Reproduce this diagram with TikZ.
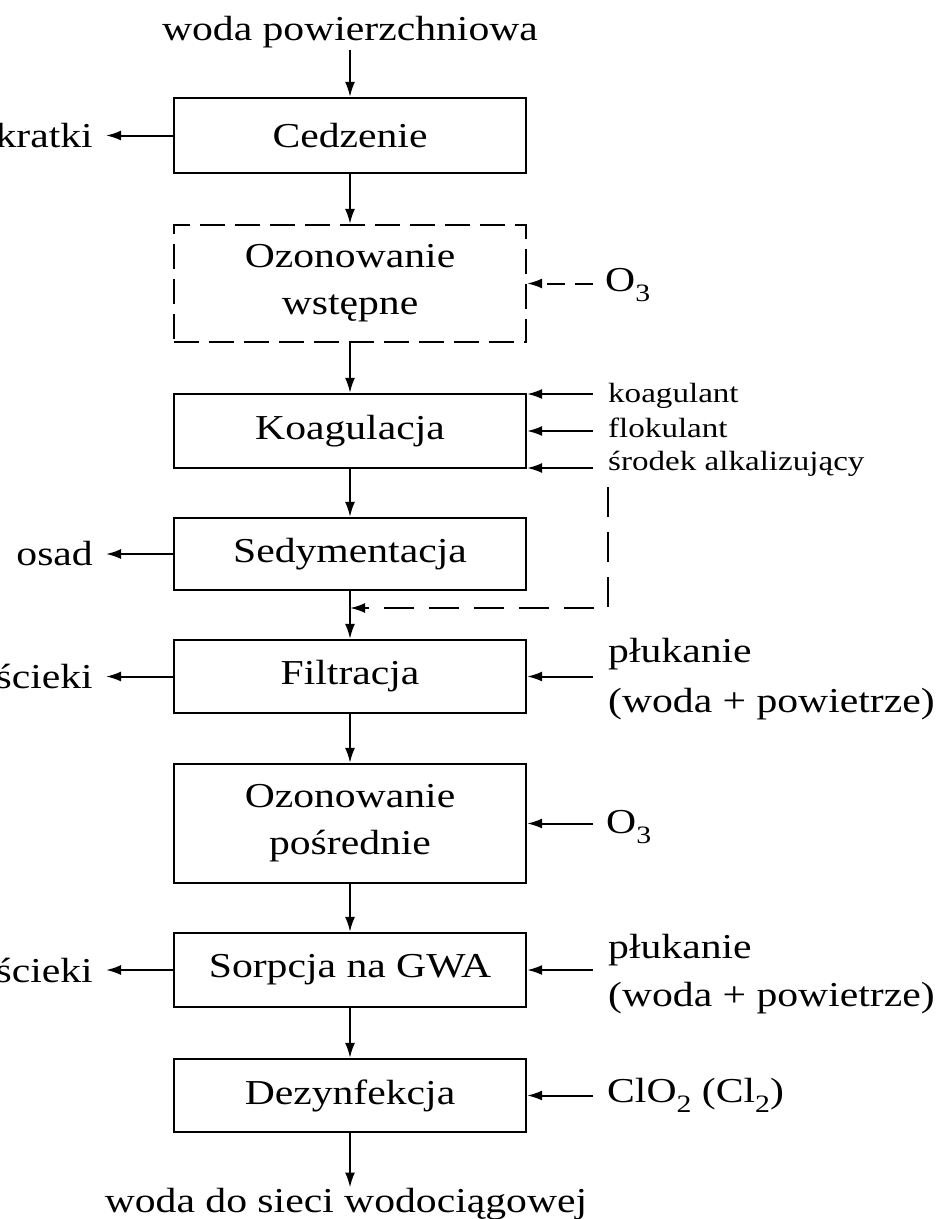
\documentclass[tikz,border=0pt]{standalone}
\usepackage{fontspec}
\setmainfont[FakeStretch=1.19]{Liberation Serif}
\usetikzlibrary{arrows.meta}
\newcommand\mysub[1]{\raisebox{-0.3em}{\fontsize{25}{25}\selectfont #1}}
\begin{document}
\begin{tikzpicture}[x=1pt,y=-1pt,
  every node/.style={font=\fontsize{35}{47}\selectfont},
  box/.style={draw,line width=2.2pt,minimum width=352pt,inner sep=0pt,align=center},
  dbox/.style={box,dash pattern=on 25pt off 10pt},
  arr/.style={line width=2pt,-{Latex[length=15pt,width=10pt]}},
  darr/.style={arr,dash pattern=on 30pt off 15pt},
  small/.style={font=\fontsize{27.8}{30}\selectfont},
  lab/.style={anchor=base west,inner sep=0pt},
  outlab/.style={anchor=east,inner ysep=0pt,inner xsep=13pt}
]
\useasboundingbox (0,0) rectangle (950,1219);

% process boxes
\node[box,minimum height=75pt] (ced) at (350,135.5) {Cedzenie};
\node[dbox,minimum height=117pt] (ozw) at (350,283.5) {Ozonowanie\\wstępne};
\node[box,minimum height=74pt] (koag) at (350,431) {Koagulacja};
\node[box,minimum height=72pt] (sed) at (350,554) {Sedymentacja};
\node[box,minimum height=73pt] (fil) at (350,676.5) {Filtracja};
\node[box,minimum height=119pt] (ozp) at (350,823.5) {Ozonowanie\\pośrednie};
\node[box,minimum height=74pt] (sor) at (350,970) {Sorpcja na GWA};
\node[box,minimum height=73pt] (dez) at (350,1095.5) {Dezynfekcja};

% source and product
\node[anchor=base,inner sep=2pt] (src) at (350,40) {woda powierzchniowa};
\node[anchor=base,inner sep=0pt] (dst) at (346,1212) {woda do sieci wodociągowej};

% main flow
\draw[arr] (src) -- (ced);
\draw[arr] (ced) -- (ozw);
\draw[arr] (ozw) -- (koag);
\draw[arr] (koag) -- (sed);
\draw[arr] (sed) -- (fil);
\draw[arr] (fil) -- (ozp);
\draw[arr] (ozp) -- (sor);
\draw[arr] (sor) -- (dez);
\draw[arr] (dez.south) -- (dez.south |- dst.north);

% outputs on the left
\node[outlab] (kr) at (106,135.5) {kratki};
\node[outlab] (os) at (106,554) {osad};
\node[outlab] (sc1) at (106,676.5) {ścieki};
\node[outlab] (sc2) at (106,970) {ścieki};
\draw[arr] (ced.west) -- (kr.east);
\draw[arr] (sed.west) -- (os.east);
\draw[arr] (fil.west) -- (sc1.east);
\draw[arr] (sor.west) -- (sc2.east);

% inputs on the right
\coordinate (o1) at (593,283.5);
\draw[arr,dash pattern=on 18pt off 10pt] (o1) -- (ozw.east);
\node[lab] (o1t) at (605,291) {O\mysub{3}};

\coordinate (k1) at (593,394);
\coordinate (k2) at (593,431);
\coordinate (k3) at (593,468);
\draw[arr] (k1) -- (k1 -| koag.east);
\draw[arr] (k2) -- (k2 -| koag.east);
\draw[arr] (k3) -- (k3 -| koag.east);
\node[lab,small] (kt1) at (608,402) {koagulant};
\node[lab,small] (kt2) at (608,437) {flokulant};
\node[lab,small] (kt3) at (608,470) {środek alkalizujący};

\coordinate (d1) at (608,487);
\coordinate (d2) at (608,608);
\draw[darr] (d1) -- (d2) -- (d2 -| sed.south);

\coordinate (f1) at (593,676.5);
\draw[arr] (f1) -- (fil.east);
\node[lab] (ft1) at (608,662) {płukanie};
\node[lab] (ft2) at (608,712) {(woda + powietrze)};

\coordinate (o2) at (593,823.5);
\draw[arr] (o2) -- (ozp.east);
\node[lab] (o2t) at (606,833) {O\mysub{3}};

\coordinate (s1) at (593,970);
\draw[arr] (s1) -- (sor.east);
\node[lab] (st1) at (608,958) {płukanie};
\node[lab] (st2) at (608,1006) {(woda + powietrze)};

\coordinate (z1) at (593,1095.5);
\draw[arr] (z1) -- (dez.east);
\node[lab] (zt) at (607,1102) {ClO\mysub{2} (Cl\mysub{2})};
\end{tikzpicture}
\end{document}
